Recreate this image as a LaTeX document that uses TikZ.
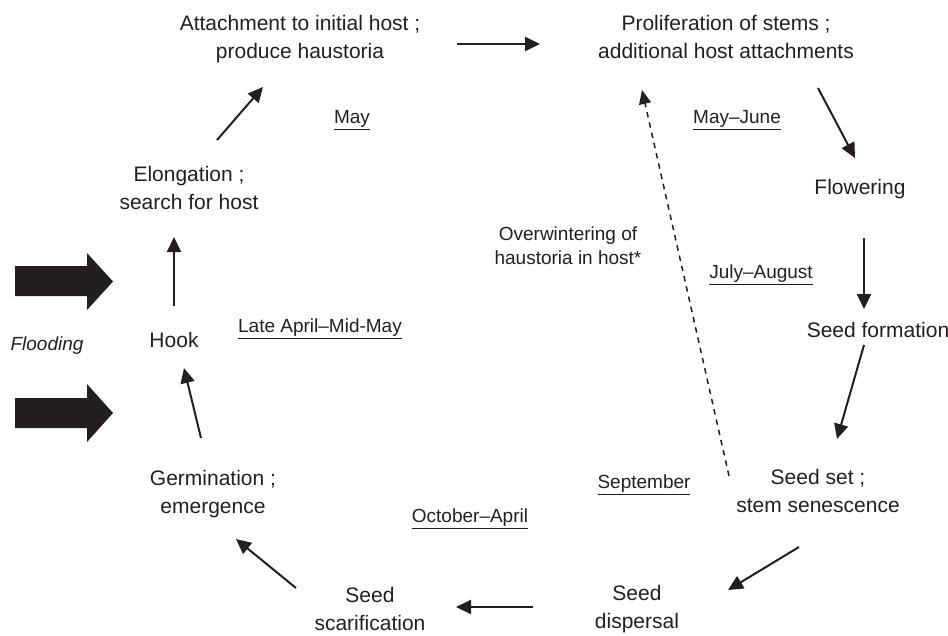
\documentclass[tikz,border=0pt]{standalone}
\usepackage{fontspec}
\setmainfont{Liberation Sans}
\usetikzlibrary{arrows.meta}
\definecolor{ink}{RGB}{35,31,32}
\tikzset{
  stage/.style={align=center, font=\fontsize{21}{28.5}\selectfont, text=ink, inner sep=0pt},
  period/.style={font=\fontsize{19}{23}\selectfont, text=ink, inner sep=0pt},
  note/.style={align=center, font=\fontsize{19}{24}\selectfont, text=ink, inner sep=0pt},
  flow/.style={draw=ink, line width=2pt, -{Triangle[length=15pt,width=14pt]}},
  winter/.style={draw=ink, line width=1.5pt, dash pattern=on 5.5pt off 5pt, -{Triangle[length=14pt,width=12pt]}},
  block/.style={fill=ink, draw=none},
}
\begin{document}
\begin{tikzpicture}[x=1pt,y=-1pt]
\useasboundingbox (0,0) rectangle (948,635);

% stages
\node[stage] (attach) at (300,39) {Attachment to initial host ;\\produce haustoria};
\node[stage] (prolif) at (726,37) {Proliferation of stems ;\\additional host attachments};
\node[stage] (flower) at (860,189) {Flowering};
\node[stage] (formation) at (878,330) {Seed formation};
\node[stage] (seedset) at (818,491) {Seed set ;\\stem senescence};
\node[stage] (dispersal) at (637,609) {Seed\\dispersal};
\node[stage] (scarif) at (370,609) {Seed\\scarification};
\node[stage] (germ) at (213,494) {Germination ;\\emergence};
\node[stage] (hook) at (174,340) {Hook};
\node[stage] (elong) at (189,188) {Elongation ;\\search for host};

% flooding
\node[period, font=\fontsize{19}{23}\selectfont\itshape] (flooding) at (47,346) {Flooding};
\fill[block] (15,266) -- (87,266) -- (87,253) -- (113,281.5) -- (87,310) -- (87,296) -- (15,296) -- cycle;
\fill[block] (15,398) -- (87,398) -- (87,384) -- (113,413) -- (87,442) -- (87,428) -- (15,428) -- cycle;

% periods
\node[period] (pmay) at (352,120) {\underline{May}};
\node[period] (pmayjune) at (737,120) {\underline{May\textendash June}};
\node[period] (pjulaug) at (761,275) {\underline{July\textendash August}};
\node[period] (plate) at (320,329) {\underline{Late April\textendash Mid-May}};
\node[period] (psept) at (644,485) {\underline{September}};
\node[period] (poct) at (470,519) {\underline{October\textendash April}};

% overwintering note
\node[note] (winternote) at (568,246) {Overwintering of\\haustoria in host*};

% connector end points
\coordinate (c1s) at (457,44);  \coordinate (c1e) at (540,44);
\coordinate (c2s) at (818,88);  \coordinate (c2e) at (855,158);
\coordinate (c3s) at (864,238); \coordinate (c3e) at (864,309);
\coordinate (c4s) at (864,345); \coordinate (c4e) at (837,439);
\coordinate (c5s) at (799,547); \coordinate (c5e) at (728,590);
\coordinate (c6s) at (533,607); \coordinate (c6e) at (456,607);
\coordinate (c7s) at (296,588); \coordinate (c7e) at (236,539);
\coordinate (c8s) at (201,438); \coordinate (c8e) at (184,368);
\coordinate (c9s) at (174,306); \coordinate (c9e) at (174,237);
\coordinate (c10s) at (217,140); \coordinate (c10e) at (263,87);
\coordinate (cws) at (729,476);  \coordinate (cwe) at (642,90);

\draw[flow] (c1s) -- (c1e);
\draw[flow] (c2s) -- (c2e);
\draw[flow] (c3s) -- (c3e);
\draw[flow] (c4s) -- (c4e);
\draw[flow] (c5s) -- (c5e);
\draw[flow] (c6s) -- (c6e);
\draw[flow] (c7s) -- (c7e);
\draw[flow] (c8s) -- (c8e);
\draw[flow] (c9s) -- (c9e);
\draw[flow] (c10s) -- (c10e);
\draw[winter] (cws) -- (cwe);
\end{tikzpicture}
\end{document}
